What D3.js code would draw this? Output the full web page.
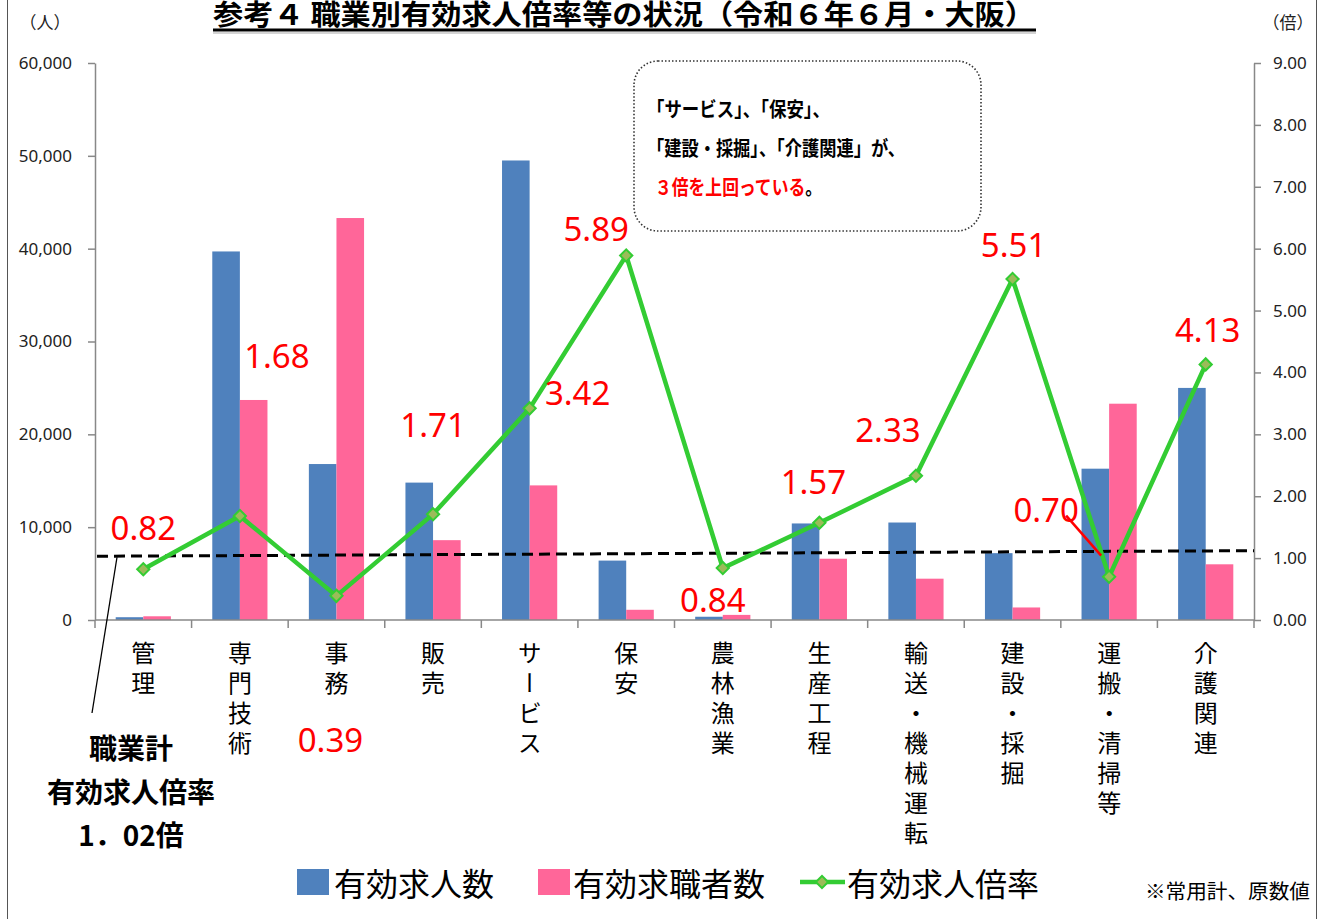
<!DOCTYPE html>
<html>
<head>
<meta charset="utf-8">
<script src="https://cdn.jsdelivr.net/npm/d3@7"></script>
<style>
  html, body { margin: 0; padding: 0; background: #fff; }
  svg { display: block; }
</style>
</head>
<body>
<svg id="chart" width="1323" height="919"></svg>
<script>
// ---------------- DATA ----------------
const categories = ["管理","専門技術","事務","販売","サービス","保安","農林漁業","生産工程","輸送・機械運転","建設・採掘","運搬・清掃等","介護関連"];
const jobOffers  = [300, 39700, 16800, 14800, 49500, 6400, 350, 10400, 10500, 7200, 16300, 25000];
const jobSeekers = [400, 23700, 43300, 8600, 14500, 1100, 550, 6600, 4450, 1350, 23300, 6000];
const ratios     = [0.82, 1.68, 0.39, 1.71, 3.42, 5.89, 0.84, 1.57, 2.33, 5.51, 0.70, 4.13];
const leftTicks  = [0, 10000, 20000, 30000, 40000, 50000, 60000];
const rightTicks = [0, 1, 2, 3, 4, 5, 6, 7, 8, 9];
const seriesNames = ["有効求人数", "有効求職者数", "有効求人倍率"];
const overallRatioText = ["職業計", "有効求人倍率", "1．02倍"];
const referenceLevel = [1.03, 1.12]; // dashed reference line (left end, right end), ratio axis
const noteLines = ["「サービス」、「保安」、", "「建設・採掘」、「介護関連」が、", "３倍を上回っている"];

// ---------------- LAYOUT ----------------
const labelOffsets = [[0,-29],[37,-148],[-6,156],[0,-77],[48,-3],[-30,-14],[-10,44],[-6,-29],[-28,-34],[1,-22],[-63,-55],[2,-22]];

(function draw() {
const svg = d3.select("#chart");
const W = 1323, H = 919;
const pLeft = 95, pRight = 1254, pTop = 63, pBottom = 620;
const JP = "'Noto Sans CJK JP', 'Noto Sans', sans-serif";
const NUM = "'Noto Sans', 'Open Sans', sans-serif";
const blue = "#4F81BD", pink = "#FF6699", green = "#33CC33", markerFill = "#9BBB59";

svg.append("rect").attr("width", W).attr("height", H).attr("fill", "#fff");
svg.append("line").attr("x1", 7.5).attr("x2", 7.5).attr("y1", 0).attr("y2", H).attr("stroke", "#555").attr("stroke-width", 1);
svg.append("line").attr("x1", 1316.5).attr("x2", 1316.5).attr("y1", 0).attr("y2", H).attr("stroke", "#555").attr("stroke-width", 1);

const x = d3.scaleBand().domain(categories).range([pLeft, pRight]).paddingInner(0).paddingOuter(0);
const x1 = d3.scaleBand().domain(["offers", "seekers"]).range([0, x.bandwidth()]).paddingInner(0).paddingOuter(0.75);
const yL = d3.scaleLinear().domain([0, 60000]).range([pBottom, pTop]);
const yR = d3.scaleLinear().domain([0, 9]).range([pBottom, pTop]);

// title
svg.append("text").attr("x", 624).attr("y", 25)
  .attr("text-anchor", "middle").attr("font-family", JP).attr("font-weight", 700).attr("font-size", 28)
  .attr("textLength", 822).attr("lengthAdjust", "spacingAndGlyphs")
  .attr("fill", "#000").text("参考４ 職業別有効求人倍率等の状況（令和６年６月・大阪）");
svg.append("line").attr("x1", 213).attr("x2", 1036).attr("y1", 30).attr("y2", 30).attr("stroke", "#000").attr("stroke-width", 3);
svg.append("line").attr("x1", 213).attr("x2", 1036).attr("y1", 33).attr("y2", 33).attr("stroke", "#aaa").attr("stroke-width", 1.2);

svg.append("text").attr("x", 45).attr("y", 29).attr("text-anchor", "middle").attr("font-family", JP).attr("font-size", 17).attr("fill", "#222").text("（人）");
svg.append("text").attr("x", 1288).attr("y", 29).attr("text-anchor", "middle").attr("font-family", JP).attr("font-size", 17).attr("fill", "#222").text("（倍）");

// bars
const gBars = svg.append("g");
categories.forEach((c, i) => {
  gBars.append("rect").attr("x", x(c) + x1("offers")).attr("width", x1.bandwidth())
    .attr("y", yL(jobOffers[i])).attr("height", yL(0) - yL(jobOffers[i])).attr("fill", blue);
  gBars.append("rect").attr("x", x(c) + x1("seekers")).attr("width", x1.bandwidth())
    .attr("y", yL(jobSeekers[i])).attr("height", yL(0) - yL(jobSeekers[i])).attr("fill", pink);
});

// axes
const axisColor = "#888";
const gL = svg.append("g").attr("transform", `translate(${pLeft},0)`)
  .call(d3.axisLeft(yL).tickValues(leftTicks).tickFormat(d3.format(",")).tickSize(7).tickSizeOuter(0).tickPadding(16));
const gR = svg.append("g").attr("transform", `translate(${pRight},0)`)
  .call(d3.axisRight(yR).tickValues(rightTicks).tickFormat(d3.format(".2f")).tickSize(7).tickSizeOuter(0).tickPadding(12));
[gL, gR].forEach(g => {
  g.select(".domain").attr("stroke", axisColor).attr("stroke-width", 1.5);
  g.selectAll(".tick line").attr("stroke", axisColor).attr("stroke-width", 1.5);
  g.selectAll(".tick text").attr("font-family", NUM).attr("font-size", 17).attr("fill", "#222");
});
svg.append("line").attr("x1", pLeft).attr("x2", pRight).attr("y1", pBottom).attr("y2", pBottom).attr("stroke", axisColor).attr("stroke-width", 1.5);
const bounds = categories.map(c => x(c)).concat([x.range()[1]]);
svg.append("g").selectAll("line").data(bounds).join("line")
  .attr("x1", d => d).attr("x2", d => d).attr("y1", pBottom).attr("y2", pBottom + 8)
  .attr("stroke", axisColor).attr("stroke-width", 1.5);

// category labels (vertical writing)
svg.append("g").selectAll("text").data(categories).join("text")
  .attr("x", c => x(c) + x.bandwidth() / 2)
  .attr("y", 641)
  .attr("font-family", JP).attr("font-size", 24).attr("fill", "#000")
  .style("writing-mode", "vertical-rl")
  .style("letter-spacing", "6px")
  .text(c => c);

// dashed reference line
svg.append("line").attr("x1", pLeft + 2).attr("x2", pRight)
  .attr("y1", yR(referenceLevel[0])).attr("y2", yR(referenceLevel[1]))
  .attr("stroke", "#000").attr("stroke-width", 3).attr("stroke-dasharray", "11,6");

// ratio line
const cxOf = i => x(categories[i]) + x.bandwidth() / 2;
const line = d3.line().x((d, i) => cxOf(i)).y(d => yR(d));
svg.append("path").datum(ratios).attr("d", line).attr("fill", "none").attr("stroke", green).attr("stroke-width", 4.5);
svg.append("g").selectAll("path").data(ratios).join("path")
  .attr("d", d3.symbol().type(d3.symbolSquare).size(75))
  .attr("transform", (d, i) => `translate(${cxOf(i)},${yR(d)}) rotate(45)`)
  .attr("fill", markerFill).attr("stroke", green).attr("stroke-width", 2);

{
  const i = 10, px = cxOf(i), py = yR(ratios[i]);
  svg.append("line").attr("x1", px - 43).attr("y1", py - 61).attr("x2", px - 8).attr("y2", py - 21)
    .attr("stroke", "#FF0000").attr("stroke-width", 2.5);
}

svg.append("g").selectAll("text").data(ratios).join("text")
  .attr("x", (d, i) => cxOf(i) + labelOffsets[i][0])
  .attr("y", (d, i) => yR(d) + labelOffsets[i][1])
  .attr("text-anchor", "middle").attr("font-family", NUM).attr("font-size", 33).attr("fill", "#FF0000")
  .text(d => d3.format(".2f")(d));

// note box
svg.append("rect").attr("x", 634).attr("y", 61).attr("width", 347).attr("height", 170).attr("rx", 24).attr("ry", 24)
  .attr("fill", "#fff").attr("stroke", "#333").attr("stroke-width", 1.6).attr("stroke-dasharray", "1.5,2");
svg.append("text").attr("x", 647).attr("y", 117).attr("font-family", JP).attr("font-weight", 700).attr("font-size", 20)
  .attr("fill", "#000").attr("textLength", 183).attr("lengthAdjust", "spacingAndGlyphs").text(noteLines[0]);
svg.append("text").attr("x", 647).attr("y", 156).attr("font-family", JP).attr("font-weight", 700).attr("font-size", 20)
  .attr("fill", "#000").attr("textLength", 258).attr("lengthAdjust", "spacingAndGlyphs").text(noteLines[1]);
const t3 = svg.append("text").attr("x", 655).attr("y", 195).attr("font-family", JP).attr("font-weight", 700).attr("font-size", 20)
  .attr("textLength", 167).attr("lengthAdjust", "spacingAndGlyphs");
t3.append("tspan").attr("fill", "#FF0000").text(noteLines[2]);
t3.append("tspan").attr("fill", "#000").text("。");

// overall ratio note
svg.append("line").attr("x1", pLeft + 22).attr("y1", yR(referenceLevel[0]) + 1).attr("x2", 92).attr("y2", 713)
  .attr("stroke", "#000").attr("stroke-width", 1.3);
[747, 791, 834].forEach((cy, k) => {
  svg.append("text").attr("x", 131).attr("y", cy).attr("text-anchor", "middle").attr("dominant-baseline", "central")
    .attr("font-family", JP).attr("font-weight", 700).attr("font-size", 28).attr("fill", "#000")
    .text(overallRatioText[k]);
});

// legend
const lg = svg.append("g");
lg.append("rect").attr("x", 297).attr("y", 869).attr("width", 32).attr("height", 26).attr("fill", blue);
lg.append("text").attr("x", 334).attr("y", 882).attr("dominant-baseline", "central").attr("font-family", JP).attr("font-size", 32).attr("fill", "#000").text(seriesNames[0]);
lg.append("rect").attr("x", 538).attr("y", 869).attr("width", 32).attr("height", 26).attr("fill", pink);
lg.append("text").attr("x", 573).attr("y", 882).attr("dominant-baseline", "central").attr("font-family", JP).attr("font-size", 32).attr("fill", "#000").text(seriesNames[1]);
lg.append("line").attr("x1", 800).attr("x2", 845).attr("y1", 882).attr("y2", 882).attr("stroke", green).attr("stroke-width", 4.5);
lg.append("path").attr("d", d3.symbol().type(d3.symbolSquare).size(75)).attr("transform", "translate(822,882) rotate(45)")
  .attr("fill", markerFill).attr("stroke", green).attr("stroke-width", 2);
lg.append("text").attr("x", 847).attr("y", 882).attr("dominant-baseline", "central").attr("font-family", JP).attr("font-size", 32).attr("fill", "#000").text(seriesNames[2]);
svg.append("text").attr("x", 1145).attr("y", 890).attr("dominant-baseline", "central").attr("font-family", JP).attr("font-size", 20)
  .attr("fill", "#000").attr("textLength", 165).attr("lengthAdjust", "spacingAndGlyphs").text("※常用計、原数値");
})();
</script>
</body>
</html>
